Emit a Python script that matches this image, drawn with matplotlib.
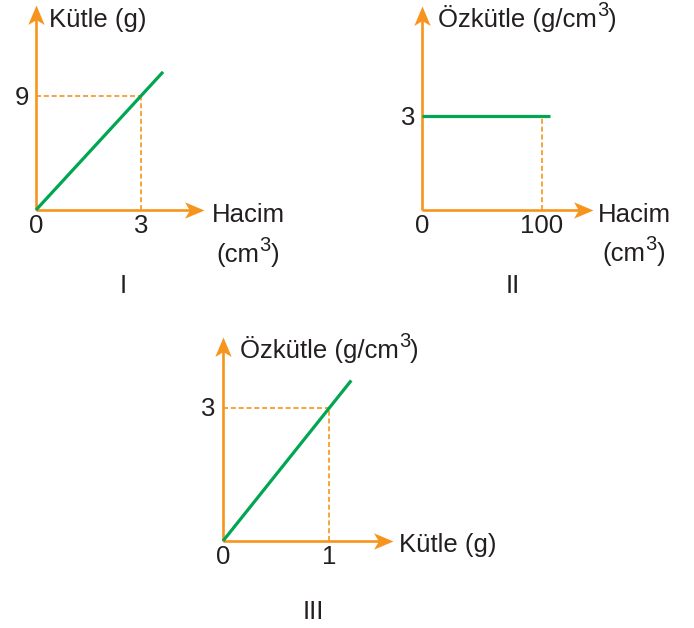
import matplotlib
matplotlib.use("Agg")
import matplotlib.pyplot as plt
from matplotlib.path import Path

plt.rcParams['font.family'] = ['Liberation Sans', 'DejaVu Sans']

# ---------------- data ----------------
# Graph I : Kütle vs Hacim
g1_line_x = [0, 3.63]
g1_line_y = [0, 10.9]
g1_mark_x = 3
g1_mark_y = 9
g1_xticks = [0, 3]
g1_ytick = 9
# Graph II : Özkütle vs Hacim
g2_line_x = [0, 107]
g2_line_y = [3, 3]
g2_mark_x = 100
g2_mark_y = 3
g2_xticks = [0, 100]
g2_ytick = 3
# Graph III : Özkütle vs Kütle
g3_line_x = [0, 1.21]
g3_line_y = [0, 3.62]
g3_mark_x = 1
g3_mark_y = 3
g3_xticks = [0, 1]
g3_ytick = 3

ORANGE = '#F7941D'
GREEN = '#00A651'
TEXT = '#231F20'
FS = 18.5
FS_SUP = 14.5

W, H = 694, 628
fig = plt.figure(figsize=(W / 100, H / 100), dpi=100)
fig.patch.set_facecolor('white')
renderer = fig.canvas.get_renderer()

# stealth-style arrow head markers (tip at marker origin)
HEAD_RIGHT = Path([(0, 0), (-1, 0.42), (-0.75, 0), (-1, -0.42), (0, 0)],
                  [Path.MOVETO, Path.LINETO, Path.LINETO, Path.LINETO, Path.CLOSEPOLY])
HEAD_UP = Path([(0, 0), (0.42, -1), (0, -0.75), (-0.42, -1), (0, 0)],
               [Path.MOVETO, Path.LINETO, Path.LINETO, Path.LINETO, Path.CLOSEPOLY])


def fx(px):
    return px / W


def fy(py):
    return 1 - py / H


def make_axes(ox, oy, tipx, tipy, xmax, ymax):
    ax = fig.add_axes([fx(ox), fy(oy), (tipx - ox) / W, (oy - tipy) / H])
    ax.set_xlim(0, xmax)
    ax.set_ylim(0, ymax)
    ax.axis('off')
    ax.plot([0, xmax * 0.97], [0, 0], color=ORANGE, lw=1.9, clip_on=False, zorder=1,
            solid_capstyle='butt')
    ax.plot([0, 0], [0, ymax * 0.97], color=ORANGE, lw=1.9, clip_on=False, zorder=1,
            solid_capstyle='butt')
    ax.plot([xmax], [0], marker=HEAD_RIGHT, markersize=28, color=ORANGE,
            markeredgewidth=0, clip_on=False, zorder=1)
    ax.plot([0], [ymax], marker=HEAD_UP, markersize=28, color=ORANGE,
            markeredgewidth=0, clip_on=False, zorder=1)
    return ax


def guides(ax, mx, my, horiz=True):
    kw = dict(color=ORANGE, lw=1.2, linestyle=(0, (3.0, 1.7)), clip_on=False, zorder=2)
    if horiz:
        ax.plot([0, mx], [my, my], **kw)
    ax.plot([mx, mx], [0, my], **kw)


def xtick_labels(ax, ticks):
    for t in ticks:
        ax.annotate(str(t), xy=(t, 0), xytext=(0, -23), textcoords='offset pixels',
                    ha='center', va='baseline', fontsize=FS, color=TEXT, annotation_clip=False)


def ytick_label(ax, t, dx=-7, dy=-9):
    ax.annotate(str(t), xy=(0, t), xytext=(dx, dy), textcoords='offset pixels',
                ha='right', va='baseline', fontsize=FS, color=TEXT, annotation_clip=False)


def width_px(s, size):
    t = fig.text(0, 0, s, fontsize=size)
    w = t.get_window_extent(renderer).width
    t.remove()
    return w


def label(px, py, s, ha='left'):
    fig.text(fx(px), fy(py), s, ha=ha, va='baseline', fontsize=FS, color=TEXT)


def label_sup(px, py, pre, sup, post, ha='left', raise_px=11):
    w1 = width_px(pre, FS)
    w2 = width_px(sup, FS_SUP)
    w3 = width_px(post, FS)
    total = w1 + w2 + w3
    x0 = px - total / 2 if ha == 'center' else px
    fig.text(fx(x0), fy(py), pre, ha='left', va='baseline', fontsize=FS, color=TEXT)
    fig.text(fx(x0 + w1), fy(py - raise_px), sup, ha='left', va='baseline',
             fontsize=FS_SUP, color=TEXT)
    fig.text(fx(x0 + w1 + w2), fy(py), post, ha='left', va='baseline', fontsize=FS, color=TEXT)


# ---------- Graph I ----------
ax1 = make_axes(36, 210, 204, 5, 4.8, 16.18)
guides(ax1, g1_mark_x, g1_mark_y)
ax1.plot(g1_line_x, g1_line_y, color=GREEN, lw=2.3, solid_capstyle='butt', clip_on=False, zorder=3)
xtick_labels(ax1, g1_xticks)
ytick_label(ax1, g1_ytick)
label(49, 27, 'Kütle (g)')
label(212, 222, 'Hacim')
label_sup(248, 262, '(cm', '3', ')', ha='center')
label(123, 293, 'I', ha='center')

# ---------- Graph II ----------
ax2 = make_axes(422, 210, 593, 6, 142.5, 6.51)
guides(ax2, g2_mark_x, g2_mark_y, horiz=False)
ax2.plot(g2_line_x, g2_line_y, color=GREEN, lw=2.3, solid_capstyle='butt', clip_on=False, zorder=3)
xtick_labels(ax2, g2_xticks)
ytick_label(ax2, g2_ytick)
label_sup(438, 27, 'Özkütle (g/cm', '3', ')')
label(598, 222, 'Hacim')
label_sup(634, 261, '(cm', '3', ')', ha='center')
label(513, 293, 'II', ha='center')

# ---------- Graph III ----------
ax3 = make_axes(223, 541, 393, 337, 1.604, 4.6)
guides(ax3, g3_mark_x, g3_mark_y)
ax3.plot(g3_line_x, g3_line_y, color=GREEN, lw=2.3, solid_capstyle='butt', clip_on=False, zorder=3)
xtick_labels(ax3, g3_xticks)
ytick_label(ax3, g3_ytick, dx=-8, dy=-8)
label_sup(240, 358, 'Özkütle (g/cm', '3', ')')
label(399, 552, 'Kütle (g)')
label(313, 619, 'III', ha='center')

fig.savefig('out.png', dpi=100, facecolor='white')
